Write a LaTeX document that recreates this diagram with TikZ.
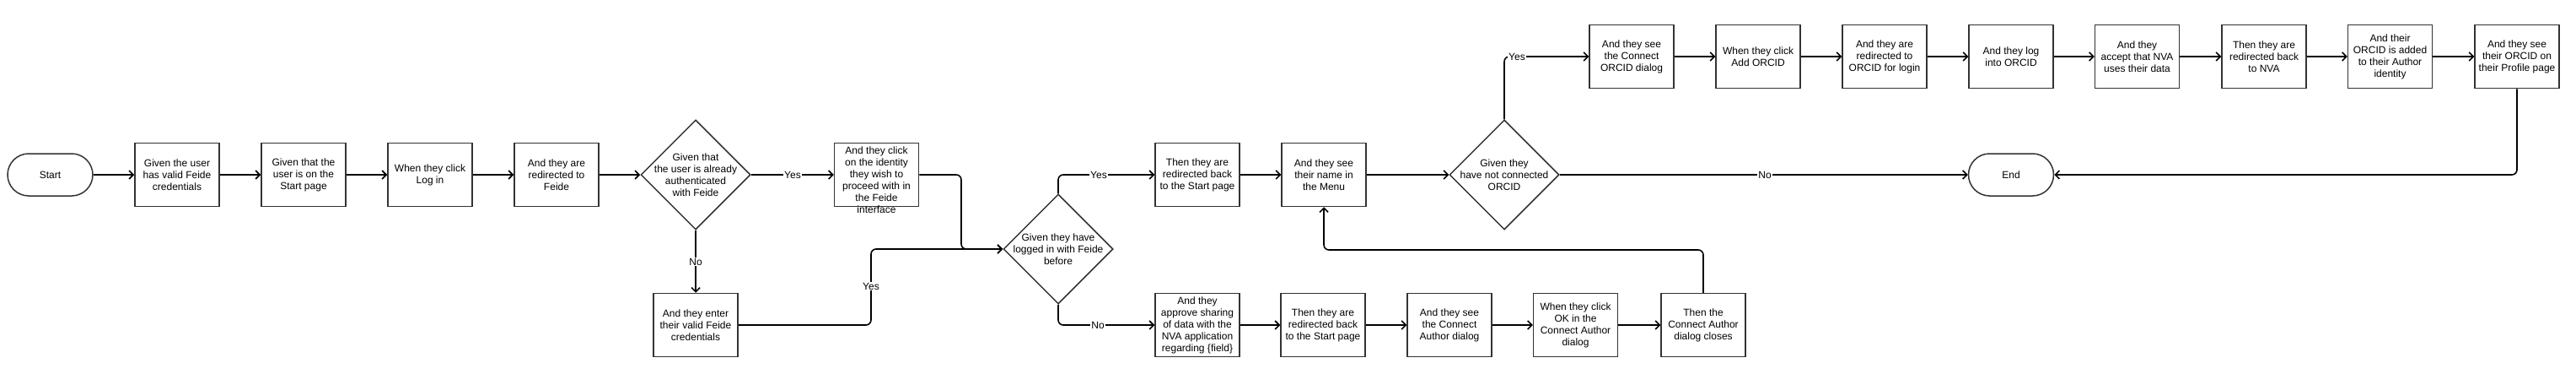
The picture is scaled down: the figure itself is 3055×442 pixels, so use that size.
\documentclass[tikz,border=0pt]{standalone}
\usepackage{fontspec}
\setmainfont{Liberation Sans}
\usetikzlibrary{arrows.meta,shapes.geometric,calc}
\definecolor{boxc}{HTML}{333333}
\begin{document}
\begin{tikzpicture}[x=1pt,y=-1pt,
  every node/.style={font=\fontsize{12}{14}\selectfont},
  stepbox/.style={draw=boxc, line width=1.5pt, minimum width=100pt, minimum height=75pt, inner sep=0pt, align=center},
  term/.style={draw=boxc, line width=1.5pt, rounded corners=25pt, minimum width=101pt, minimum height=50pt, inner sep=0pt},
  dia/.style={draw=boxc, line width=1.5pt, diamond, minimum width=130pt, minimum height=130pt, inner sep=0pt},
  txt/.style={align=center, inner sep=0pt},
  lab/.style={fill=white, inner sep=1pt},
  conn/.style={line width=1.6pt, -{Straight Barb[length=5pt,width=10pt]}, rounded corners=6pt},
]
\fill[white] (0,0) rectangle (3055,442);
\useasboundingbox (0,0) rectangle (3055,442);

% middle row
\node[term] (start) at (59.5,207) {Start};
\node[stepbox] (b1) at (210,207) {Given the user\\has valid Feide\\credentials};
\node[stepbox] (b2) at (360,207) {Given that the\\user is on the\\Start page};
\node[stepbox] (b3) at (510,207) {When they click\\Log in};
\node[stepbox] (b4) at (660,207) {And they are\\redirected to\\Feide};
\node[dia] (d1) at (825,207) {};
\node[txt] at (d1) {Given that\\the user is already\\authenticated\\with Feide};
\node[stepbox] (b5) at (1039.5,207) {};
\node[txt] at ($(b5.center)+(0,6)$) {And they click\\on the identity\\they wish to\\proceed with in\\the Feide\\interface};
\node[stepbox] (b6) at (825,385) {And they enter\\their valid Feide\\credentials};
\node[dia] (d2) at (1255,295) {};
\node[txt] at (d2) {Given they have\\logged in with Feide\\before};
\node[stepbox] (b7) at (1420,207) {Then they are\\redirected back\\to the Start page};
\node[stepbox] (b8) at (1570,207) {And they see\\their name in\\the Menu};
\node[dia] (d3) at (1784,207) {};
\node[txt] at (d3) {Given they\\have not connected\\ORCID};
\node[term] (end) at (2385,207) {End};

% bottom row
\node[stepbox] (b9) at (1420,385) {And they\\approve sharing\\of data with the\\NVA application\\regarding \{field\}};
\node[stepbox] (b10) at (1569,385) {Then they are\\redirected back\\to the Start page};
\node[stepbox] (b11) at (1719,385) {And they see\\the Connect\\Author dialog};
\node[stepbox] (b12) at (1868.5,385) {When they click\\OK in the\\Connect Author\\dialog};
\node[stepbox] (b13) at (2020,385) {Then the\\Connect Author\\dialog closes};

% ORCID row
\node[stepbox] (c1) at (1935,67) {And they see\\the Connect\\ORCID dialog};
\node[stepbox] (c2) at (2085,67) {When they click\\Add ORCID};
\node[stepbox] (c3) at (2235,67) {And they are\\redirected to\\ORCID for login};
\node[stepbox] (c4) at (2385,67) {And they log\\into ORCID};
\node[stepbox] (c5) at (2534.5,67) {And they\\accept that NVA\\uses their data};
\node[stepbox] (c6) at (2685,67) {Then they are\\redirected back\\to NVA};
\node[stepbox] (c7) at (2834.5,67) {And their\\ORCID is added\\to their Author\\identity};
\node[stepbox] (c8) at (2985,67) {And they see\\their ORCID on\\their Profile page};

% connectors
\draw[conn] (start) -- (b1);
\draw[conn] (b1) -- (b2);
\draw[conn] (b2) -- (b3);
\draw[conn] (b3) -- (b4);
\draw[conn] (b4) -- (d1);
\draw[conn] (d1.east) -- (b5.west);
\draw[conn] (d1.south) -- (b6.north);
\draw[conn] (b6.east) -- (1033,385) -- (1033,295) -- (d2.west);
\draw[conn] (b5.east) -- (1140,207) -- (1140,295) -- (d2.west);
\draw[conn] (d2.north) |- (b7.west);
\draw[conn] (d2.south) |- (b9.west);
\draw[conn] (b7) -- (b8);
\draw[conn] (b8.east) -- (d3.west);
\draw[conn] (d3.north) |- (c1.west);
\draw[conn] (d3.east) -- (end.west);
\draw[conn] (c1) -- (c2);
\draw[conn] (c2) -- (c3);
\draw[conn] (c3) -- (c4);
\draw[conn] (c4) -- (c5);
\draw[conn] (c5) -- (c6);
\draw[conn] (c6) -- (c7);
\draw[conn] (c7) -- (c8);
\draw[conn] (c8.south) |- (end.east);
\draw[conn] (b9) -- (b10);
\draw[conn] (b10) -- (b11);
\draw[conn] (b11) -- (b12);
\draw[conn] (b12) -- (b13);
\draw[conn] (b13.north) -- (2020,296) -| (b8.south);

% labels
\node[lab] at (940,207) {Yes};
\node[lab] at (825,310) {No};
\node[lab] at (1033,339) {Yes};
\node[lab] at (1303,207) {Yes};
\node[lab] at (1302,385) {No};
\node[lab] at (1799,67) {Yes};
\node[lab] at (2093,207) {No};
\end{tikzpicture}
\end{document}
